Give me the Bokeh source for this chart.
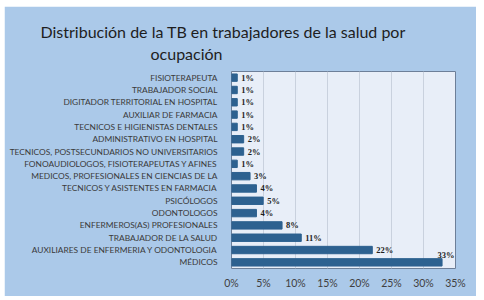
from bokeh.plotting import figure
from bokeh.models import ColumnDataSource, FactorRange, Title, FixedTicker, LabelSet, Spacer
from bokeh.layouts import column, row
from bokeh.embed import file_html
from bokeh.resources import INLINE

categories = [
    "FISIOTERAPEUTA",
    "TRABAJADOR SOCIAL",
    "DIGITADOR TERRITORIAL EN HOSPITAL",
    "AUXILIAR DE FARMACIA",
    "TECNICOS E HIGIENISTAS DENTALES",
    "ADMINISTRATIVO EN HOSPITAL",
    "TECNICOS, POSTSECUNDARIOS NO UNIVERSITARIOS",
    "FONOAUDIOLOGOS, FISIOTERAPEUTAS Y AFINES",
    "MEDICOS, PROFESIONALES EN CIENCIAS DE LA",
    "TECNICOS Y ASISTENTES EN FARMACIA",
    "PSICÓLOGOS",
    "ODONTOLOGOS",
    "ENFERMEROS(AS) PROFESIONALES",
    "TRABAJADOR DE LA SALUD",
    "AUXILIARES DE ENFERMERIA Y ODONTOLOGIA",
    "MÉDICOS",
]
values = [0.9, 0.9, 0.9, 0.9, 0.9, 1.9, 1.9, 0.9, 2.9, 3.9, 4.95, 3.9, 7.9, 10.9, 22.0, 32.9]
value_labels = ["1%", "1%", "1%", "1%", "1%", "2%", "2%", "1%", "3%", "4%", "5%", "4%", "8%", "11%", "22%", "33%"]
x_ticks = [0, 5, 10, 15, 20, 25, 30, 35]
title_lines = ["Distribución de la TB en trabajadores de la salud por", "ocupación"]

src = ColumnDataSource(dict(cat=categories[:-1], val=values[:-1], lab=value_labels[:-1]))
src_last = ColumnDataSource(dict(cat=categories[-1:], val=values[-1:], lab=value_labels[-1:]))
src_all = ColumnDataSource(dict(cat=categories, val=values))

PANEL = "#abc9e9"
FONT = "Open Sans"
p = figure(
    width=472, height=290,
    y_range=FactorRange(factors=list(reversed(categories)), range_padding=0),
    x_range=(0, 35),
    output_backend="svg", toolbar_location=None,
    min_border_left=227, min_border_right=21, min_border_top=65, min_border_bottom=28,
)
p.border_fill_color = PANEL
p.background_fill_color = "#e8eef8"
p.outline_line_color = "#6d7f99"
p.outline_line_width = 1

title_style = dict(align="left", text_font="Lato", text_font_size="16px",
                   text_font_style="normal", text_color="#1e1e1e")
# second line first: later-added titles sit farther from the plot
p.add_layout(Title(text=title_lines[1], offset=-81, standoff=18, **title_style), "above")
p.add_layout(Title(text=title_lines[0], offset=-191, standoff=-17, **title_style), "above")

p.hbar(y="cat", right="val", left=0, height=0.6, source=src_all, color="#2d6190")

label_style = dict(text_font=FONT, text_font_size="8.5px", text_font_style="bold",
                   text_color="#1e1e1e", text_baseline="middle")
p.add_layout(LabelSet(x="val", y="cat", text="lab", source=src, x_offset=4, y_offset=0,
                      **label_style))
p.add_layout(LabelSet(x="val", y="cat", text="lab", source=src_last, x_offset=4, y_offset=7,
                      text_align="center", **label_style))

p.xaxis.ticker = FixedTicker(ticks=x_ticks)
p.xaxis.major_label_overrides = {t_: f"{t_}%" for t_ in x_ticks}
p.xaxis.axis_line_color = None
p.xaxis.major_tick_line_color = None
p.xaxis.minor_tick_line_color = None
p.xaxis.major_label_text_font = "Lato"
p.xaxis.major_label_text_font_size = "10.5px"
p.xaxis.major_label_text_color = "#404040"
p.xaxis.major_label_standoff = 2

p.yaxis.axis_line_color = None
p.yaxis.major_tick_line_color = None
p.yaxis.minor_tick_line_color = None
p.yaxis.major_label_text_font = "Lato"
p.yaxis.major_label_text_font_size = "8.4px"
p.yaxis.major_label_text_color = "#3a3a3a"
p.yaxis.major_label_standoff = 8

p.ygrid.grid_line_color = None
p.xgrid.grid_line_color = "#c9d1de"
p.xgrid.grid_line_width = 1

layout = column(Spacer(height=6), row(Spacer(width=4), p))
open("out.html", "w").write(file_html(layout, INLINE))
